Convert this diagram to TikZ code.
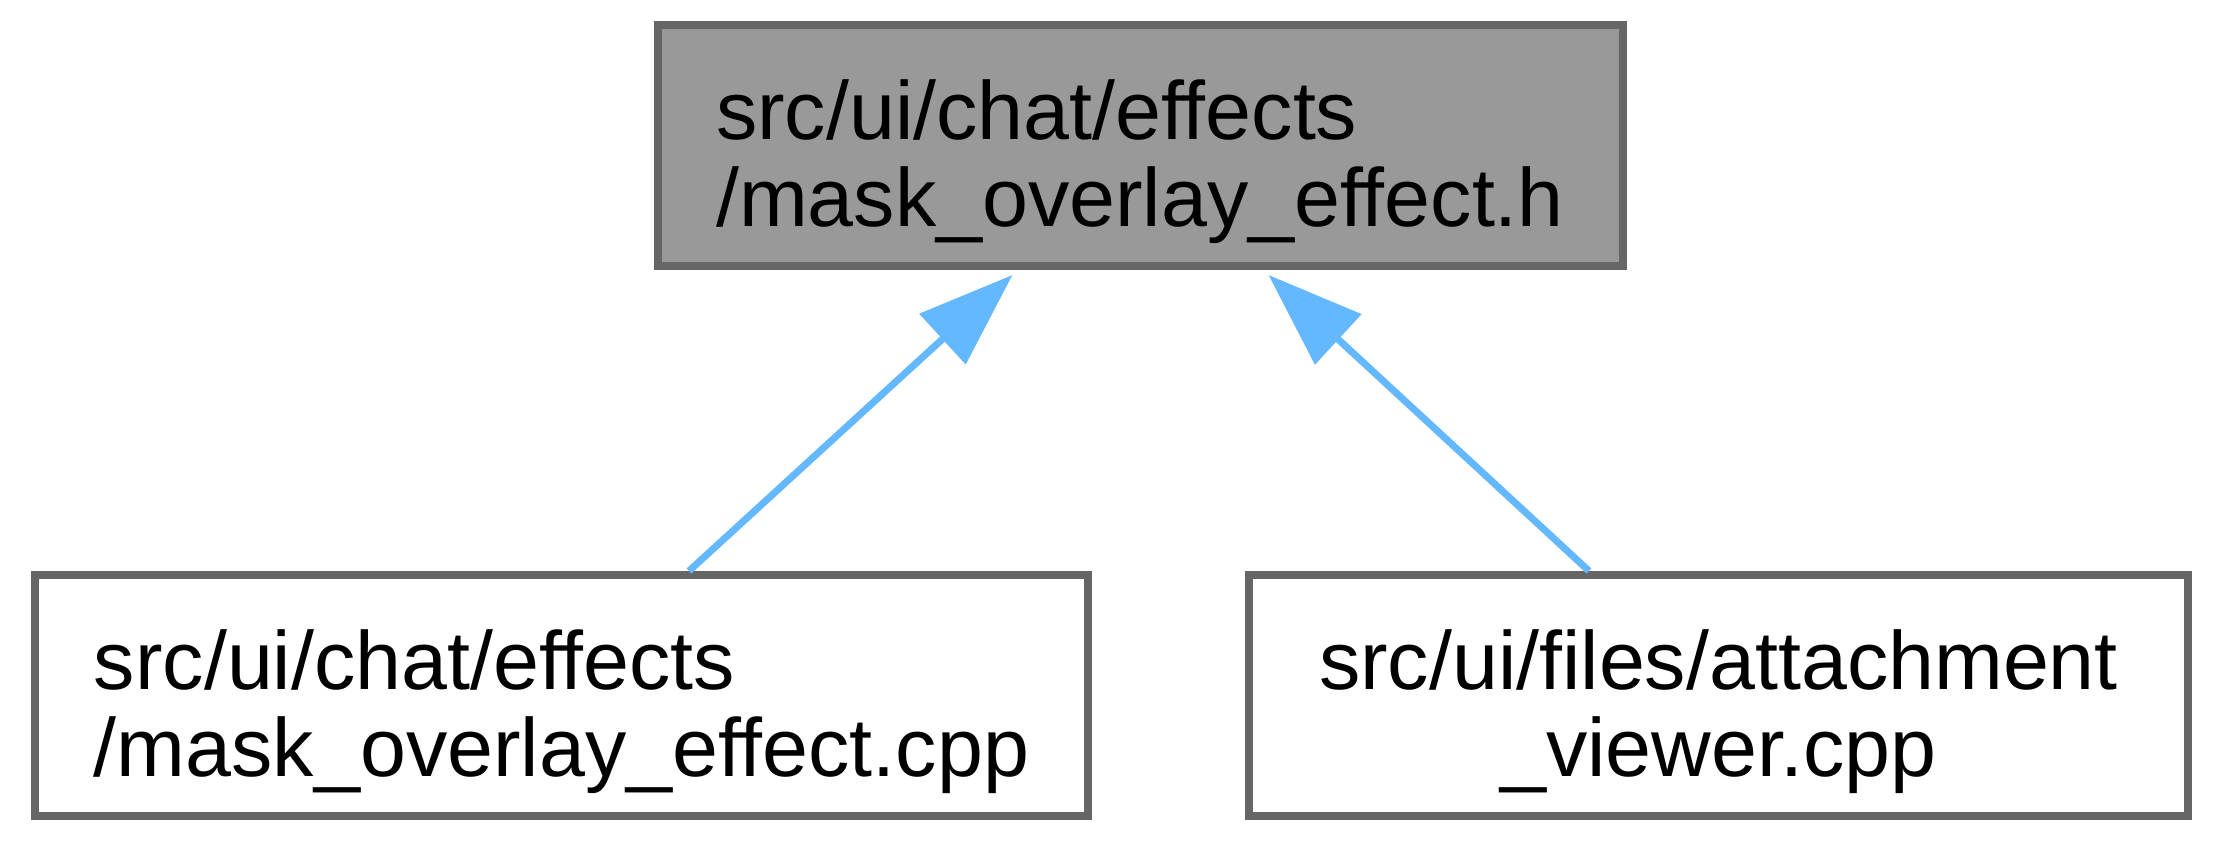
\documentclass[tikz,border=0pt]{standalone}
\usepackage{fontspec}
\setmainfont{Liberation Sans}
\usetikzlibrary{arrows.meta,positioning,calc}
\definecolor{nodegray}{HTML}{999999}
\definecolor{nodeedge}{HTML}{666666}
\definecolor{depblue}{HTML}{63B8FF}
\newcommand{\hstrut}{\rule{0pt}{0.95cm}}
\newcommand{\dstrut}{\rule[-0.2cm]{0pt}{0.2cm}}
\tikzset{
  filebox/.style={draw=nodeedge, line width=0.08cm, rectangle, minimum height=2.41cm, inner sep=0.1cm, font=\fontsize{23.5pt}{25pt}\selectfont},
  current/.style={filebox, fill=nodegray, align=left},
  incl/.style={filebox, fill=white},
  dep/.style={-{Triangle[length=0.95cm, width=0.67cm]}, line width=0.07cm, draw=depblue, fill=depblue}
}

\begin{document}
\begin{tikzpicture}[node distance=3.01cm and 1.53cm]
\useasboundingbox (0,0) rectangle (22.17,-8.5);
\node[incl, align=left, minimum width=10.53cm] (maskcpp) at (5.615,-6.955) {\hstrut src/ui/chat/effects\\/mask\_overlay\_effect.cpp\dstrut};
\node[incl, align=center, minimum width=9.39cm, right=of maskcpp] (viewer) {\hstrut src/ui/files/attachment\\\_viewer.cpp\dstrut};
\coordinate (mid) at ($(maskcpp.north)!0.5!(viewer.north)$);
\node[current, minimum width=9.65cm, above=of mid] (maskh) {\hstrut src/ui/chat/effects\\/mask\_overlay\_effect.h\dstrut};
\draw[dep] ([xshift=1.275cm]maskcpp.north) -- ([xshift=-1.275cm,yshift=-0.05cm]maskh.south);
\draw[dep] ([xshift=-1.295cm]viewer.north) -- ([xshift=1.285cm,yshift=-0.05cm]maskh.south);
\end{tikzpicture}
\end{document}
